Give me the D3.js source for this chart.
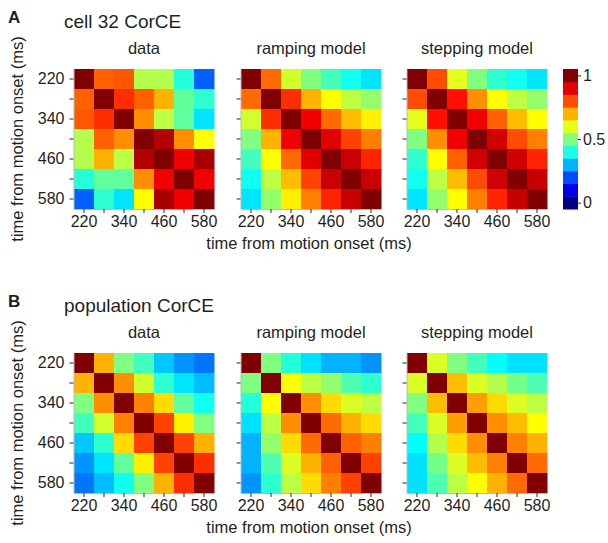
<!DOCTYPE html>
<html>
<head>
<meta charset="utf-8">
<script src="https://cdn.jsdelivr.net/npm/d3@7"></script>
<style>
  body { margin: 0; background: #fff; }
  svg text { font-family: Helvetica, Arial, "Liberation Sans", sans-serif; fill: #1f1f1f; }
</style>
</head>
<body>
<svg id="drawing_region"></svg>
<script>
// time bins (ms) shared by both axes
const times = [220, 280, 340, 400, 460, 520, 580];
const labeledTimes = [220, 340, 460, 580];
const colorbarTicks = [0, 0.5, 1];
const colorbarLevels = [0, 0.1, 0.2, 0.3, 0.4, 0.5, 0.6, 0.7, 0.8, 0.9, 1];

const modelNames = ["data", "ramping model", "stepping model"];
const panelTitles = ["cell 32 CorCE", "population CorCE"];
const panelLetters = ["A", "B"];

// panel A, cell 32 (rows = 220 ... 580)
const cellData = [
    [1.00, 0.78, 0.79, 0.55, 0.55, 0.41, 0.22],
    [0.78, 1.00, 0.83, 0.78, 0.70, 0.47, 0.42],
    [0.79, 0.83, 1.00, 0.735, 0.56, 0.47, 0.35],
    [0.55, 0.78, 0.735, 1.00, 0.95, 0.735, 0.625],
    [0.55, 0.70, 0.56, 0.95, 1.00, 0.89, 0.96],
    [0.41, 0.47, 0.47, 0.735, 0.89, 1.00, 0.89],
    [0.22, 0.42, 0.35, 0.625, 0.96, 0.89, 1.00]
];
const cellRamping = [
    [1.00, 0.77, 0.58, 0.50, 0.44, 0.39, 0.35],
    [0.77, 1.00, 0.83, 0.70, 0.625, 0.56, 0.52],
    [0.58, 0.83, 1.00, 0.89, 0.77, 0.69, 0.64],
    [0.50, 0.70, 0.89, 1.00, 0.905, 0.81, 0.75],
    [0.44, 0.625, 0.77, 0.905, 1.00, 0.93, 0.84],
    [0.39, 0.56, 0.69, 0.81, 0.93, 1.00, 0.93],
    [0.35, 0.52, 0.64, 0.75, 0.84, 0.93, 1.00]
];
const cellStepping = [
    [1.00, 0.80, 0.60, 0.50, 0.42, 0.39, 0.35],
    [0.80, 1.00, 0.86, 0.735, 0.625, 0.56, 0.52],
    [0.60, 0.86, 1.00, 0.89, 0.78, 0.69, 0.625],
    [0.50, 0.735, 0.89, 1.00, 0.92, 0.80, 0.75],
    [0.42, 0.625, 0.78, 0.92, 1.00, 0.92, 0.84],
    [0.39, 0.56, 0.69, 0.80, 0.92, 1.00, 0.93],
    [0.35, 0.52, 0.625, 0.75, 0.84, 0.93, 1.00]
];

// panel B, population
const popData = [
    [1.00, 0.70, 0.50, 0.44, 0.32, 0.27, 0.24],
    [0.70, 1.00, 0.735, 0.58, 0.42, 0.35, 0.31],
    [0.50, 0.735, 1.00, 0.75, 0.66, 0.47, 0.39],
    [0.44, 0.58, 0.75, 1.00, 0.81, 0.64, 0.50],
    [0.32, 0.42, 0.66, 0.81, 1.00, 0.81, 0.70],
    [0.27, 0.35, 0.47, 0.64, 0.81, 1.00, 0.83],
    [0.24, 0.31, 0.39, 0.50, 0.70, 0.83, 1.00]
];
const popRamping = [
    [1.00, 0.50, 0.41, 0.345, 0.30, 0.30, 0.27],
    [0.50, 1.00, 0.625, 0.56, 0.52, 0.45, 0.42],
    [0.41, 0.625, 1.00, 0.735, 0.66, 0.59, 0.56],
    [0.345, 0.56, 0.735, 1.00, 0.77, 0.70, 0.66],
    [0.30, 0.52, 0.66, 0.77, 1.00, 0.78, 0.75],
    [0.30, 0.45, 0.59, 0.70, 0.78, 1.00, 0.81],
    [0.27, 0.42, 0.56, 0.66, 0.75, 0.81, 1.00]
];
const popStepping = [
    [1.00, 0.59, 0.50, 0.44, 0.375, 0.345, 0.345],
    [0.59, 1.00, 0.69, 0.59, 0.55, 0.49, 0.45],
    [0.50, 0.69, 1.00, 0.72, 0.66, 0.59, 0.56],
    [0.44, 0.59, 0.72, 1.00, 0.735, 0.69, 0.625],
    [0.375, 0.55, 0.66, 0.735, 1.00, 0.75, 0.70],
    [0.345, 0.49, 0.59, 0.69, 0.75, 1.00, 0.77],
    [0.345, 0.45, 0.56, 0.625, 0.70, 0.77, 1.00]
];

const panels = [
    [cellData, cellRamping, cellStepping],
    [popData, popRamping, popStepping]
];

// matlab style jet
function jet(v) {
    const c = x => Math.round(255 * Math.max(0, Math.min(1, x)));
    return d3.rgb(c(1.5 - Math.abs(4 * v - 3)), c(1.5 - Math.abs(4 * v - 2)), c(1.5 - Math.abs(4 * v - 1)));
}

const config = {
    width: 608,
    height: 543,
    mapLefts: [74, 241, 407],
    mapSize: 140,
    panelTops: [69, 353]
};

const svg = d3.select("#drawing_region")
    .attr("width", config.width)
    .attr("height", config.height);

const color = d3.scaleSequential(jet).domain([0, 1]);

panels.forEach((mats, p) => {
    const top = config.panelTops[p];
    const g = svg.append("g");

    g.append("text")
        .attr("x", 8).attr("y", top - 46)
        .attr("font-size", "17px").attr("font-weight", "bold")
        .text(panelLetters[p]);

    g.append("text")
        .attr("x", 64).attr("y", top - 41)
        .attr("font-size", "19px")
        .text(panelTitles[p]);

    mats.forEach((mat, m) => {
        const left = config.mapLefts[m];
        const x = d3.scaleBand().domain(times).range([left, left + config.mapSize]);
        const y = d3.scaleBand().domain(times).range([top, top + config.mapSize]);

        g.append("text")
            .attr("x", left + config.mapSize / 2).attr("y", top - 15)
            .attr("text-anchor", "middle")
            .attr("font-size", "16.5px")
            .text(modelNames[m]);

        const cells = [];
        mat.forEach((row, i) => row.forEach((v, j) => cells.push({r: times[i], c: times[j], v: v})));

        g.append("g").selectAll("rect")
            .data(cells)
            .enter()
            .append("rect")
            .attr("x", d => x(d.c))
            .attr("y", d => y(d.r))
            .attr("width", x.bandwidth() + 0.5)
            .attr("height", y.bandwidth() + 0.5)
            .attr("fill", d => color(d.v));

        const fmt = d => labeledTimes.includes(d) ? d : "";

        const xAxis = g.append("g")
            .attr("transform", `translate(0, ${top + config.mapSize})`)
            .call(d3.axisBottom(x).tickValues(times).tickFormat(fmt).tickSize(4).tickSizeOuter(0));
        const yAxis = g.append("g")
            .attr("transform", `translate(${left - 0.5}, 0)`)
            .call(d3.axisLeft(y).tickValues(times).tickFormat(m === 0 ? fmt : () => "").tickSize(4).tickSizeOuter(0));

        [xAxis, yAxis].forEach(a => {
            a.selectAll("text").attr("font-size", "16px").attr("font-family", null).style("fill", "#1f1f1f");
            a.selectAll("line").attr("stroke", "#262626");
            a.select(".domain").attr("stroke", "#bbb");
        });
        xAxis.selectAll("text").attr("dy", "0.66em");
        yAxis.selectAll("text").attr("dx", "-2px");
    });

    g.append("text")
        .attr("x", 309).attr("y", top + config.mapSize + 40)
        .attr("text-anchor", "middle")
        .attr("font-size", "16.5px")
        .text("time from motion onset (ms)");

    g.append("text")
        .attr("transform", `translate(23, ${top + config.mapSize / 2}) rotate(-90)`)
        .attr("text-anchor", "middle")
        .attr("font-size", "16.5px")
        .text("time from motion onset (ms)");
});

// colorbar, panel A only
const cbTop = config.panelTops[0];
const cbY = d3.scaleLinear().domain([-0.05, 1.05]).range([cbTop + config.mapSize, cbTop]);
const cb = svg.append("g");
cb.selectAll("rect")
    .data(colorbarLevels)
    .enter()
    .append("rect")
    .attr("x", 563)
    .attr("y", d => cbY(d + 0.05))
    .attr("width", 15)
    .attr("height", d => cbY(d - 0.05) - cbY(d + 0.05) + 0.5)
    .attr("fill", d => jet(d));

const cbAxis = cb.append("g")
    .attr("transform", "translate(578, 0)")
    .call(d3.axisRight(cbY).tickValues(colorbarTicks).tickFormat(d3.format("")).tickSize(3).tickSizeOuter(0));
cbAxis.select(".domain").remove();
cbAxis.selectAll("line").attr("stroke", "#262626");
cbAxis.selectAll("text").attr("font-size", "16px").attr("font-family", null).attr("x", 5).style("fill", "#1f1f1f");
</script>
</body>
</html>
